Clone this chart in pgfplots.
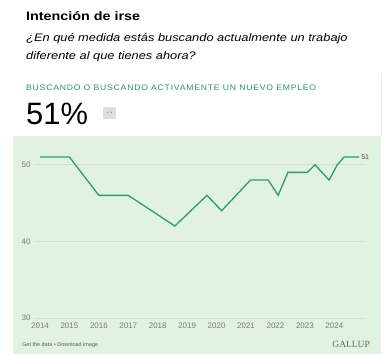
\documentclass[border=0pt]{standalone}
\usepackage{pgfplots}
\pgfplotsset{compat=1.18}
\usepackage{fontspec}
\setmainfont{Liberation Sans}
\newfontfamily\widefont{Liberation Sans}[FakeStretch=1.17]
\newfontfamily\midfont{Liberation Sans}[FakeStretch=1.08]
\newfontfamily\serifgal{Liberation Serif}
\definecolor{panel}{HTML}{E1F1E2}
\definecolor{gline}{HTML}{2E9B6E}
\definecolor{tealc}{HTML}{2A8C74}
\definecolor{gridc}{HTML}{CCE0CF}
\definecolor{tickc}{HTML}{7A7A7A}
\begin{document}
\begin{tikzpicture}
\useasboundingbox (0,0) rectangle (386bp,-355bp);
\fill[panel] (13bp,-136bp) rectangle (381bp,-354bp);
\draw[black!8, line width=0.6bp] (381bp,-73bp) -- (381bp,-136bp);
\node[anchor=base west, inner sep=0, font=\widefont\bfseries\fontsize{12.3}{14}\selectfont] at (26bp,-20bp) {Intención de irse};
\node[anchor=base west, inner sep=0, font=\widefont\itshape\fontsize{11}{13}\selectfont] at (26bp,-41.3bp) {¿En qué medida estás buscando actualmente un trabajo};
\node[anchor=base west, inner sep=0, font=\widefont\itshape\fontsize{11}{13}\selectfont] at (26bp,-59.3bp) {diferente al que tienes ahora?};
\node[anchor=base west, inner sep=0, text=tealc, font=\midfont\fontsize{8}{9}\selectfont] at (26bp,-90.7bp) {\addfontfeature{LetterSpace=10}BUSCANDO O BUSCANDO ACTIVAMENTE UN NUEVO EMPLEO};
\node[anchor=base west, inner sep=0, font=\fontsize{31}{33}\selectfont] at (26bp,-124bp) {51\%};
\fill[black!13] (103bp,-107bp) rectangle (116bp,-119bp);
\node[font=\fontsize{7}{7}\selectfont, text=black!70] at (109.5bp,-113bp) {-\,-};
\node[anchor=base west, inner sep=0, text=black!65, font=\fontsize{5.5}{6}\selectfont] at (22bp,-346bp) {Get the data • Download image};
\node[anchor=base east, inner sep=0, text=black!60, font=\serifgal\fontsize{9.5}{10}\selectfont] at (370bp,-347bp) {GALLUP};
\begin{axis}[
  at={(35bp,-318bp)}, anchor=south west, scale only axis,
  width=330bp, height=168.6bp,
  xmin=2013.83, xmax=2025.04, ymin=30, ymax=52,
  axis line style={draw=none}, tick style={draw=none},
  ymajorgrids, grid style={gridc, line width=0.6bp},
  ytick={30,40,50}, xtick={2014,...,2024},
  /pgf/number format/1000 sep={},
  /pgf/number format/assume math mode=true,
  tick label style={font=\fontsize{8}{9}\selectfont, text=tickc},
  yticklabel style={anchor=east, xshift=-1bp},
  xticklabel style={yshift=-1bp},
  clip=false,
]
\addplot[gline, line width=1.3bp] coordinates {
(2014.0,51) (2015.0,51) (2016.0,46) (2017.0,46) (2018.58,42) (2019.67,46)
(2020.17,44) (2021.15,48) (2021.75,48) (2022.09,46) (2022.42,49) (2023.08,49)
(2023.34,50) (2023.82,48) (2024.1,50) (2024.33,51) (2024.84,51)
} node[pos=1, anchor=west, inner sep=1.5bp, font=\fontsize{7}{8}\selectfont, text=black!70] {51};
\end{axis}
\end{tikzpicture}
\end{document}
